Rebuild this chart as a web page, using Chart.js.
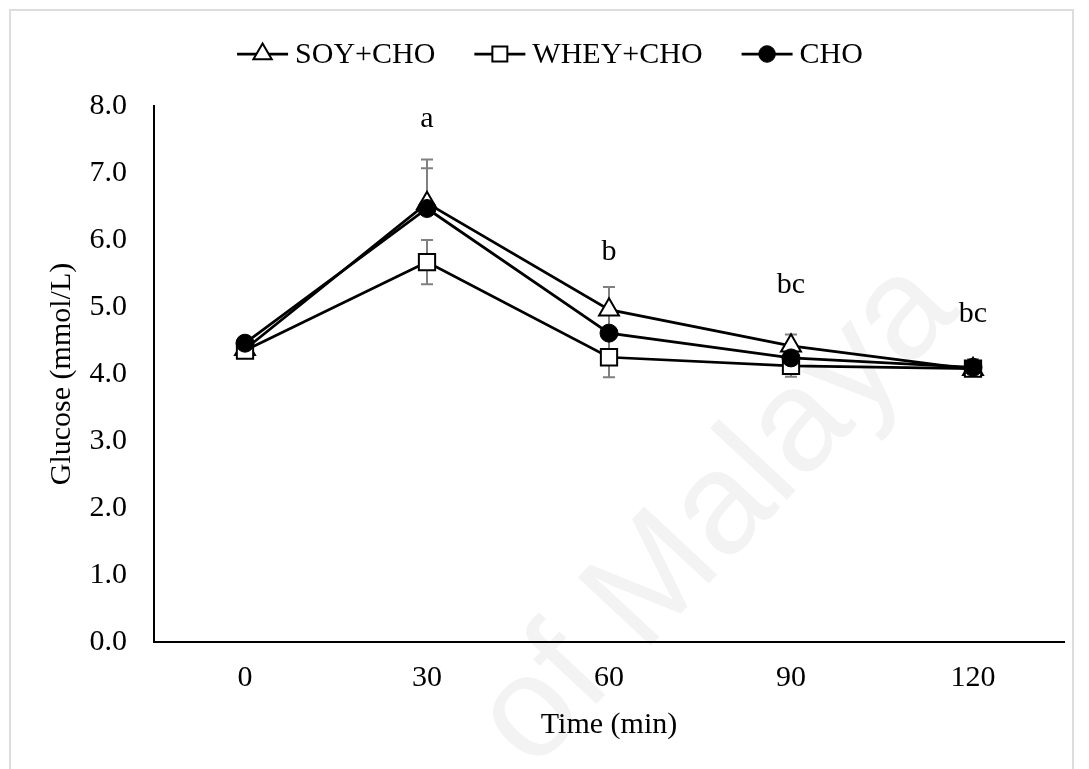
<!DOCTYPE html>
<html>
<head>
<meta charset="utf-8">
<script src="https://cdn.jsdelivr.net/npm/chart.js@4.4.1/dist/chart.umd.min.js"></script>
<style>
  html, body { margin: 0; padding: 0; background: #fff; overflow: hidden; }
  #wrap { position: relative; width: 1089px; height: 769px; }
  #frame { position: absolute; left: 9px; top: 9px; width: 1065px; height: 800px;
           border: 2px solid #dddddd; box-sizing: border-box; pointer-events: none; }
</style>
</head>
<body>
<div id="wrap">
  <canvas id="glucoseChart" width="1089" height="769"></canvas>
  <div id="frame"></div>
</div>
<script>
// time points (min)
const timePoints = ['0', '30', '60', '90', '120'];

// mean glucose, mmol/L
const soyCho = [4.37, 6.55, 4.96, 4.42, 4.07];
const wheyCho = [4.35, 5.67, 4.25, 4.12, 4.08];
const cho = [4.46, 6.47, 4.61, 4.24, 4.10];

// error bar sizes
const soyErr = [0.10, 0.65, 0.34, 0.17, 0.12];
const wheyErr = [0.08, 0.33, 0.30, 0.16, 0.10];
const choErr = [0.08, 0.60, 0.30, 0.15, 0.12];

// significance letters above each time point
const sigLetters = ['', 'a', 'b', 'bc', 'bc'];

const serif = "'Liberation Serif', 'Times New Roman', serif";
Chart.defaults.font.family = serif;
Chart.defaults.color = '#000';

// gray error bars, drawn under the markers
const errorBars = {
  id: 'errorBars',
  beforeDatasetsDraw(chart) {
    const { ctx, scales: { x, y } } = chart;
    ctx.save();
    ctx.strokeStyle = '#808080';
    ctx.lineWidth = 2;
    chart.data.datasets.forEach(ds => {
      ds.data.forEach((v, i) => {
        const px = x.getPixelForValue(i);
        const top = y.getPixelForValue(v + ds.errUp[i]);
        const bottom = y.getPixelForValue(ds.bothWays ? v - ds.errUp[i] : v);
        ctx.beginPath();
        ctx.moveTo(px, top); ctx.lineTo(px, bottom);
        ctx.moveTo(px - 6, top); ctx.lineTo(px + 6, top);
        if (ds.bothWays) { ctx.moveTo(px - 6, bottom); ctx.lineTo(px + 6, bottom); }
        ctx.stroke();
      });
    });
    ctx.restore();
  }
};

// letters a / b / bc
const sigText = {
  id: 'sigText',
  afterDatasetsDraw(chart, args, opts) {
    const { ctx, scales: { x, y } } = chart;
    ctx.save();
    ctx.font = '30px ' + serif;
    ctx.fillStyle = '#000';
    ctx.textAlign = 'center';
    ctx.textBaseline = 'alphabetic';
    sigLetters.forEach((s, i) => {
      if (!s) return;
      ctx.fillText(s, x.getPixelForValue(i), y.getPixelForValue(opts.at[i]));
    });
    ctx.restore();
  }
};

// legend with line + marker swatches
const lineLegend = {
  id: 'lineLegend',
  afterDraw(chart, args, opts) {
    const ctx = chart.ctx;
    const items = opts.order.map(k => chart.data.datasets[k]);
    ctx.save();
    ctx.font = '30px ' + serif;
    ctx.textBaseline = 'middle';
    const sw = 51, gap = 7, between = 39;
    let total = 0;
    items.forEach((ds, i) => {
      total += sw + gap + ctx.measureText(ds.label).width + (i ? between : 0);
    });
    let cx = opts.center - total / 2;
    const cy = opts.y;
    items.forEach(ds => {
      ctx.strokeStyle = '#000';
      ctx.lineWidth = 2.75;
      ctx.beginPath();
      ctx.moveTo(cx, cy); ctx.lineTo(cx + sw, cy);
      ctx.stroke();
      ctx.fillStyle = ds.pointBackgroundColor;
      ctx.strokeStyle = '#000';
      ctx.lineWidth = ds.pointBorderWidth;
      Chart.helpers.drawPoint(ctx, {
        pointStyle: ds.pointStyle, radius: ds.pointRadius * 0.92,
        borderWidth: ds.pointBorderWidth, rotation: 0
      }, cx + sw / 2, cy);
      ctx.fillStyle = '#000';
      ctx.fillText(ds.label, cx + sw + gap, cy + 1);
      cx += sw + gap + ctx.measureText(ds.label).width + between;
    });
    ctx.restore();
  }
};

// faint watermark
const watermark = {
  id: 'watermark',
  beforeDraw(chart) {
    const ctx = chart.ctx;
    ctx.save();
    ctx.translate(718, 515);
    ctx.rotate(-47 * Math.PI / 180);
    ctx.font = "145px 'Liberation Sans', Arial, sans-serif";
    ctx.fillStyle = '#f3f3f3';
    ctx.textAlign = 'center';
    ctx.textBaseline = 'middle';
    ctx.fillText('of Malaya', 0, 0);
    ctx.restore();
  }
};

const ctx = document.getElementById('glucoseChart').getContext('2d');
const chart = new Chart(ctx, {
  type: 'line',
  data: {
    labels: timePoints,
    datasets: [
      {
        label: 'CHO', data: cho, errUp: choErr, bothWays: false, order: 0,
        borderColor: '#000', borderWidth: 2.75,
        pointStyle: 'circle', pointRadius: 9,
        pointBackgroundColor: '#000', pointBorderColor: '#000', pointBorderWidth: 1
      },
      {
        label: 'WHEY+CHO', data: wheyCho, errUp: wheyErr, bothWays: true, order: 1,
        borderColor: '#000', borderWidth: 2.75,
        pointStyle: 'rect', pointRadius: 11.5,
        pointBackgroundColor: '#fff', pointBorderColor: '#000', pointBorderWidth: 2
      },
      {
        label: 'SOY+CHO', data: soyCho, errUp: soyErr, bothWays: false, order: 2,
        borderColor: '#000', borderWidth: 2.75,
        pointStyle: 'triangle', pointRadius: 11.5,
        pointBackgroundColor: '#fff', pointBorderColor: '#000', pointBorderWidth: 2
      }
    ]
  },
  options: {
    responsive: false,
    animation: false,
    devicePixelRatio: 1,
    layout: { padding: { top: 106, right: 25, bottom: 0, left: 0 } },
    elements: { line: { tension: 0 } },
    scales: {
      x: {
        offset: true,
        grid: { display: false, drawTicks: false },
        border: { display: true, color: '#000', width: 2 },
        ticks: { padding: 18, color: '#000', font: { size: 30 } },
        title: { display: true, text: 'Time (min)', color: '#000',
                 font: { size: 30 }, padding: { bottom: 26 } },
        afterFit(s) { s.height = 127; }
      },
      y: {
        min: 0, max: 8,
        grid: { display: false, drawTicks: false },
        border: { display: true, color: '#000', width: 2 },
        ticks: { stepSize: 1, padding: 27, color: '#000', font: { size: 30 },
                 callback: v => v.toFixed(1) },
        title: { display: true, text: 'Glucose (mmol/L)', color: '#000',
                 font: { size: 30 }, padding: { top: 44 } },
        afterFit(s) { s.width = 154; }
      }
    },
    plugins: {
      legend: { display: false },
      tooltip: { enabled: false },
      sigText: { at: [0, 7.68, 5.70, 5.21, 4.78] },
      lineLegend: { order: [2, 1, 0], center: 550, y: 54 }
    }
  },
  plugins: [watermark, errorBars, sigText, lineLegend]
});
</script>
</body>
</html>
